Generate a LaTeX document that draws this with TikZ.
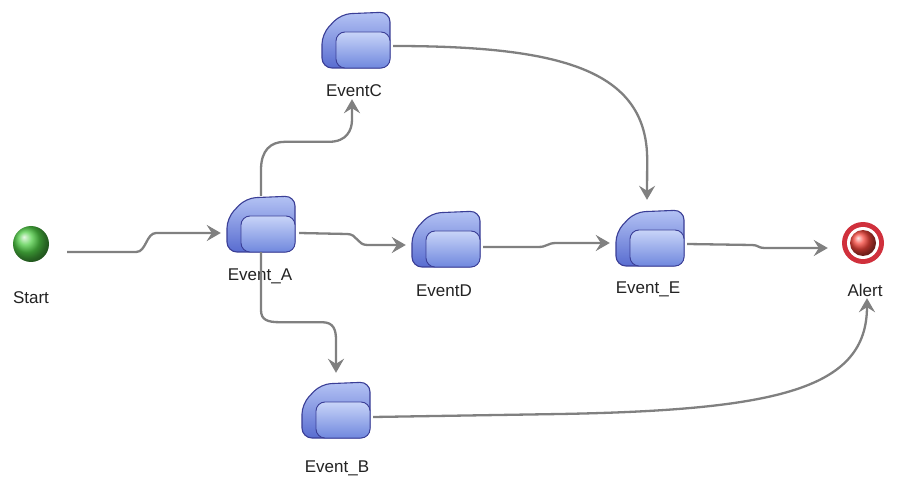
\documentclass[tikz,border=0pt]{standalone}
\usepackage{fontspec}
\setmainfont{Liberation Sans}
\usetikzlibrary{arrows.meta,calc}
\definecolor{edgegray}{RGB}{128,128,128}
\definecolor{evline}{RGB}{58,62,150}
\definecolor{evtop}{RGB}{180,195,244}
\definecolor{evbot}{RGB}{88,108,208}
\definecolor{evftop}{RGB}{200,212,248}
\definecolor{evfbot}{RGB}{112,136,222}
\definecolor{txt}{RGB}{35,35,35}
\definecolor{startgreen}{RGB}{80,205,70}
\definecolor{alertring}{RGB}{208,48,60}
\definecolor{alertball}{RGB}{245,70,60}
\tikzset{
  evicon/.pic={
    \shade[draw=evline, line width=1.1pt, rounded corners=10pt, top color=evtop, bottom color=evbot]
      (0,28) -- (-34,28) -- (-34,-6) -- (-15,-26) -- (34,-28) -- (34,28) -- cycle;
    \shade[draw=evline, line width=0.9pt, rounded corners=9pt, top color=evftop, bottom color=evfbot]
      (-20,-8) rectangle (34,28);
  }
}
\begin{document}
\begin{tikzpicture}[x=1pt,y=-1pt,
  conn/.style={draw=edgegray, line width=2.3pt, -{Stealth[length=14pt,width=16pt,inset=5pt]}},
  lbl/.style={font=\fontsize{17}{20}\selectfont, text=txt, inner sep=0pt, anchor=base},
  evbox/.style={minimum width=72pt, minimum height=56pt, inner sep=0pt}]
\useasboundingbox (0,0) rectangle (898,484);
\fill[white] (0,0) rectangle (898,484);

% start and alert
\node[circle, minimum size=36pt, inner sep=0pt] (S) at (31,244) {};
\shade[ball color=startgreen] (S.center) circle (18pt);
\node[circle, minimum size=42pt, inner sep=0pt] (Al) at (863,243) {};
\fill[alertring] (Al.center) circle (21pt);
\fill[white] (Al.center) circle (16pt);
\shade[ball color=alertball] (Al.center) circle (13pt);

% events
\node[evbox] (A) at (261,224) {}; \pic at (A.center) {evicon};
\node[evbox] (C) at (356,40) {};  \pic at (C.center) {evicon};
\node[evbox] (D) at (446,239) {}; \pic at (D.center) {evicon};
\node[evbox] (E) at (650,238) {}; \pic at (E.center) {evicon};
\node[evbox] (B) at (336,410) {}; \pic at (B.center) {evicon};

% labels
\node[lbl] (lS) at (31,303) {Start};
\node[lbl] (lA) at (260,280) {Event\_A};
\node[lbl] (lC) at (354,97) {EventC};
\node[lbl] (lD) at (444,297) {EventD};
\node[lbl] (lE) at (648,293) {Event\_E};
\node[lbl] (lB) at (337,472) {Event\_B};
\node[lbl] (lAl) at (865,297) {Alert};

% connectors
\draw[conn] ($(S.east)+(18,8)$) -- ++(69,0) .. controls +(10,0) and +(-10,0) .. ++(20,-19) -- ($(A.west)+(-4,9)$);
\draw[conn] (A.north) -- ++(0,-26) .. controls +(0,-20) and +(-14,0) .. ++(24,-28) -- ++(44,0) .. controls +(18,0) and +(0,10) .. ++(23,-22) -- ($(C.south)+(-4,31)$);
\draw[conn] ($(A.east)+(2,9)$) -- ++(48,1) .. controls +(10,0) and +(-10,0) .. ++(20,11) -- ($(D.west)+(-4,6)$);
\draw[conn] (A.south) -- ++(0,58) .. controls +(0,10) and +(-12,0) .. ++(19,12) -- ++(42,0) .. controls +(12,0) and +(0,-10) .. ++(14,18) -- ($(B.north)+(0,-9)$);
\draw[conn] ($(C.east)+(1,6)$) .. controls +(168,0) and +(0,-90) .. ++(254,114) -- ($(E.north)+(-3,-10)$);
\draw[conn] ($(D.east)+(1,8)$) -- ++(55,0) .. controls +(9,0) and +(-9,0) .. ++(18,-4) -- ($(E.west)+(-4,5)$);
\draw[conn] ($(E.east)+(1,6)$) -- ++(65,1) .. controls +(6,0) and +(-6,0) .. ++(12,3) -- ($(Al.west)+(-14,5)$);
\draw[conn] ($(B.east)+(1,7)$) -- ++(187,-3) .. controls +(220,-4) and +(0,90) .. ($(Al.south)+(4,34)$);
\end{tikzpicture}
\end{document}
